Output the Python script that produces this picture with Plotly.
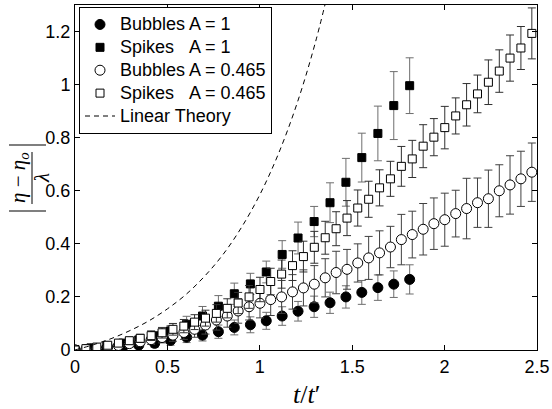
import plotly.graph_objects as go

# ---------------- data ----------------
t_A1 = [0.0, 0.086, 0.172, 0.259, 0.345, 0.431, 0.517, 0.604, 0.690, 0.776, 0.862,
        0.949, 1.035, 1.121, 1.207, 1.294, 1.380, 1.466, 1.552, 1.639, 1.725, 1.811]

bub_A1 = [0.0, 0.003, 0.007, 0.012, 0.018, 0.025, 0.036, 0.048, 0.056, 0.069, 0.085,
          0.095, 0.110, 0.128, 0.146, 0.163, 0.178, 0.200, 0.217, 0.235, 0.248, 0.266]
bub_A1_err = [0.003, 0.005, 0.008, 0.010, 0.012, 0.015, 0.018, 0.020, 0.022, 0.025, 0.028,
              0.030, 0.032, 0.035, 0.037, 0.040, 0.040, 0.042, 0.045, 0.048, 0.050, 0.055]

spk_A1 = [0.002, 0.008, 0.016, 0.026, 0.038, 0.053, 0.072, 0.097, 0.128, 0.165, 0.212,
          0.249, 0.294, 0.360, 0.422, 0.484, 0.555, 0.632, 0.725, 0.816, 0.921, 0.996]
spk_A1_err = [0.003, 0.006, 0.008, 0.010, 0.013, 0.016, 0.020, 0.030, 0.036, 0.040, 0.040,
              0.040, 0.041, 0.052, 0.060, 0.057, 0.075, 0.090, 0.092, 0.103, 0.128, 0.105]

t_A0465 = [0.0, 0.059, 0.118, 0.177, 0.235, 0.294, 0.353, 0.412, 0.471, 0.530, 0.589,
           0.647, 0.706, 0.765, 0.824, 0.883, 0.942, 1.001, 1.059, 1.118, 1.177,
           1.236, 1.295, 1.354, 1.413, 1.472, 1.530, 1.589, 1.648, 1.707, 1.766,
           1.825, 1.884, 1.942, 2.001, 2.060, 2.119, 2.178, 2.237, 2.296, 2.354,
           2.413, 2.472]

bub_A0465 = [0.0, 0.002, 0.006, 0.011, 0.017, 0.024, 0.031, 0.039, 0.047, 0.056, 0.066,
             0.078, 0.094, 0.113, 0.128, 0.147, 0.163, 0.176, 0.190, 0.200, 0.219,
             0.234, 0.248, 0.272, 0.292, 0.304, 0.328, 0.347, 0.366, 0.388, 0.416,
             0.435, 0.455, 0.476, 0.491, 0.514, 0.533, 0.555, 0.570, 0.600, 0.622,
             0.645, 0.670]
bub_A0465_err = [0.003, 0.005, 0.007, 0.010, 0.012, 0.014, 0.016, 0.018, 0.020, 0.023, 0.026,
                 0.030, 0.034, 0.038, 0.042, 0.046, 0.050, 0.055, 0.060, 0.062, 0.065,
                 0.068, 0.070, 0.072, 0.080, 0.075, 0.072, 0.081, 0.083, 0.078, 0.095,
                 0.088, 0.097, 0.097, 0.100, 0.088, 0.114, 0.093, 0.108, 0.098, 0.110,
                 0.104, 0.110]

spk_A0465 = [0.0, 0.005, 0.011, 0.018, 0.026, 0.035, 0.044, 0.054, 0.065, 0.078, 0.090,
             0.105, 0.120, 0.138, 0.157, 0.177, 0.200, 0.228, 0.258, 0.286, 0.318,
             0.352, 0.387, 0.423, 0.457, 0.497, 0.535, 0.568, 0.611, 0.645, 0.692,
             0.720, 0.768, 0.802, 0.838, 0.882, 0.924, 0.965, 1.009, 1.051, 1.100,
             1.138, 1.193]
spk_A0465_err = [0.003, 0.005, 0.007, 0.009, 0.011, 0.013, 0.015, 0.018, 0.020, 0.022, 0.025,
                 0.028, 0.030, 0.033, 0.036, 0.040, 0.043, 0.046, 0.050, 0.053, 0.056,
                 0.058, 0.060, 0.062, 0.064, 0.066, 0.068, 0.068, 0.068, 0.066, 0.075,
                 0.070, 0.081, 0.070, 0.080, 0.068, 0.080, 0.071, 0.084, 0.080, 0.087,
                 0.081, 0.096]

t_lin = [0.0, 0.1, 0.2, 0.3, 0.4, 0.5, 0.6, 0.7, 0.8, 0.9, 1.0, 1.1, 1.2, 1.3, 1.4]
lin_theory = [0.0, 0.020, 0.044, 0.074, 0.110, 0.155, 0.209, 0.277, 0.359, 0.461,
              0.585, 0.738, 0.926, 1.157, 1.439]

x_ticks = [0, 0.5, 1, 1.5, 2, 2.5]
x_ticklabels = ["0", "0.5", "1", "1.5", "2", "2.5"]
y_ticks = [0, 0.2, 0.4, 0.6, 0.8, 1.0, 1.2]
y_ticklabels = ["0", "0.2", "0.4", "0.6", "0.8", "1", "1.2"]

names = ["Bubbles A = 1", "Spikes\u00a0\u00a0\u00a0A = 1",
         "Bubbles A = 0.465", "Spikes\u00a0\u00a0\u00a0A = 0.465", "Linear Theory"]

# ---------------- figure ----------------
FONT = "Liberation Sans, Arial, sans-serif"
SERIF = "Liberation Serif, serif"
fig = go.Figure()


def err(arr, color):
    return dict(type="data", array=arr, visible=True, thickness=1, width=4, color=color)


def lg(name):
    # legend text a bit larger than the legend's line-spacing font
    return '<span style="font-size:18px">' + name + "</span>"


fig.add_trace(go.Scatter(
    x=t_A1, y=bub_A1, mode="markers", name=lg(names[0]),
    marker=dict(symbol="circle", size=10, color="black", line=dict(color="black", width=1)),
    error_y=err(bub_A1_err, "#6e6e6e")))
fig.add_trace(go.Scatter(
    x=t_A1, y=spk_A1, mode="markers", name=lg(names[1]),
    marker=dict(symbol="square", size=8, color="black", line=dict(color="black", width=1)),
    error_y=err(spk_A1_err, "#6e6e6e")))
fig.add_trace(go.Scatter(
    x=t_A0465, y=bub_A0465, mode="markers", name=lg(names[2]),
    marker=dict(symbol="circle", size=10, color="white", line=dict(color="black", width=1)),
    error_y=err(bub_A0465_err, "#404040")))
fig.add_trace(go.Scatter(
    x=t_A0465, y=spk_A0465, mode="markers", name=lg(names[3]),
    marker=dict(symbol="square", size=8, color="white", line=dict(color="black", width=1)),
    error_y=err(spk_A0465_err, "#303030")))
fig.add_trace(go.Scatter(
    x=t_lin, y=lin_theory, mode="lines", name=lg(names[4]),
    line=dict(color="black", width=1, dash="5px,4px", shape="spline")))

L, R, T, B = 75, 15, 5, 59
W, H = 552, 409
pw, ph = W - L - R, H - T - B


def px(xp):
    return (xp - L) / pw


def py(yp):
    return (H - B - yp) / ph


axis_common = dict(showline=True, linecolor="black", linewidth=1, mirror="ticks",
                   ticks="inside", ticklen=5, tickwidth=1, tickcolor="black",
                   showgrid=False, zeroline=False, automargin=False,
                   tickfont=dict(family=FONT, size=18, color="black"))

fig.update_layout(
    width=W, height=H,
    margin=dict(l=L, r=R, t=T, b=B, autoexpand=False),
    paper_bgcolor="white", plot_bgcolor="white",
    showlegend=True,
    legend=dict(x=px(79), y=py(7), xanchor="left", yanchor="top",
                bgcolor="white", bordercolor="black", borderwidth=1,
                font=dict(family=FONT, size=15.3, color="black"),
                tracegroupgap=0, itemwidth=30),
    xaxis=dict(range=[0, 2.5], tickvals=x_ticks, ticktext=x_ticklabels, **axis_common),
    yaxis=dict(range=[0, 1.3], tickvals=y_ticks, ticktext=y_ticklabels, **axis_common),
)

# x-axis title
fig.add_annotation(xref="paper", yref="paper", x=px(306), y=py(394),
                   xanchor="center", yanchor="middle",
                   text="<i>t</i>/<i>t</i>\u2032", showarrow=False,
                   font=dict(family=SERIF, size=26, color="black"))
# y-axis title: |(eta - eta_o) / lambda|  (rotated)
yc = 178
fig.add_annotation(xref="paper", yref="paper", x=px(19), y=py(yc),
                   xanchor="center", yanchor="middle",
                   text="<i>η</i> − <i>η</i><sub><i>o</i></sub>", showarrow=False, textangle=-90,
                   font=dict(family=SERIF, size=21, color="black"))
fig.add_annotation(xref="paper", yref="paper", x=px(42), y=py(yc),
                   xanchor="center", yanchor="middle",
                   text="<i>λ</i>", showarrow=False, textangle=-90,
                   font=dict(family=SERIF, size=21, color="black"))
fig.add_shape(type="line", xref="paper", yref="paper",
              x0=px(32), x1=px(32), y0=py(yc - 26), y1=py(yc + 26),
              line=dict(color="black", width=1))
for yy in (yc - 33, yc + 33):
    fig.add_shape(type="line", xref="paper", yref="paper",
                  x0=px(9), x1=px(46), y0=py(yy), y1=py(yy),
                  line=dict(color="black", width=1.2))

fig.write_html(
    "out.html",
    config={"displayModeBar": False},
    post_script="document.body.style.margin='0';document.body.style.padding='0';",
)
